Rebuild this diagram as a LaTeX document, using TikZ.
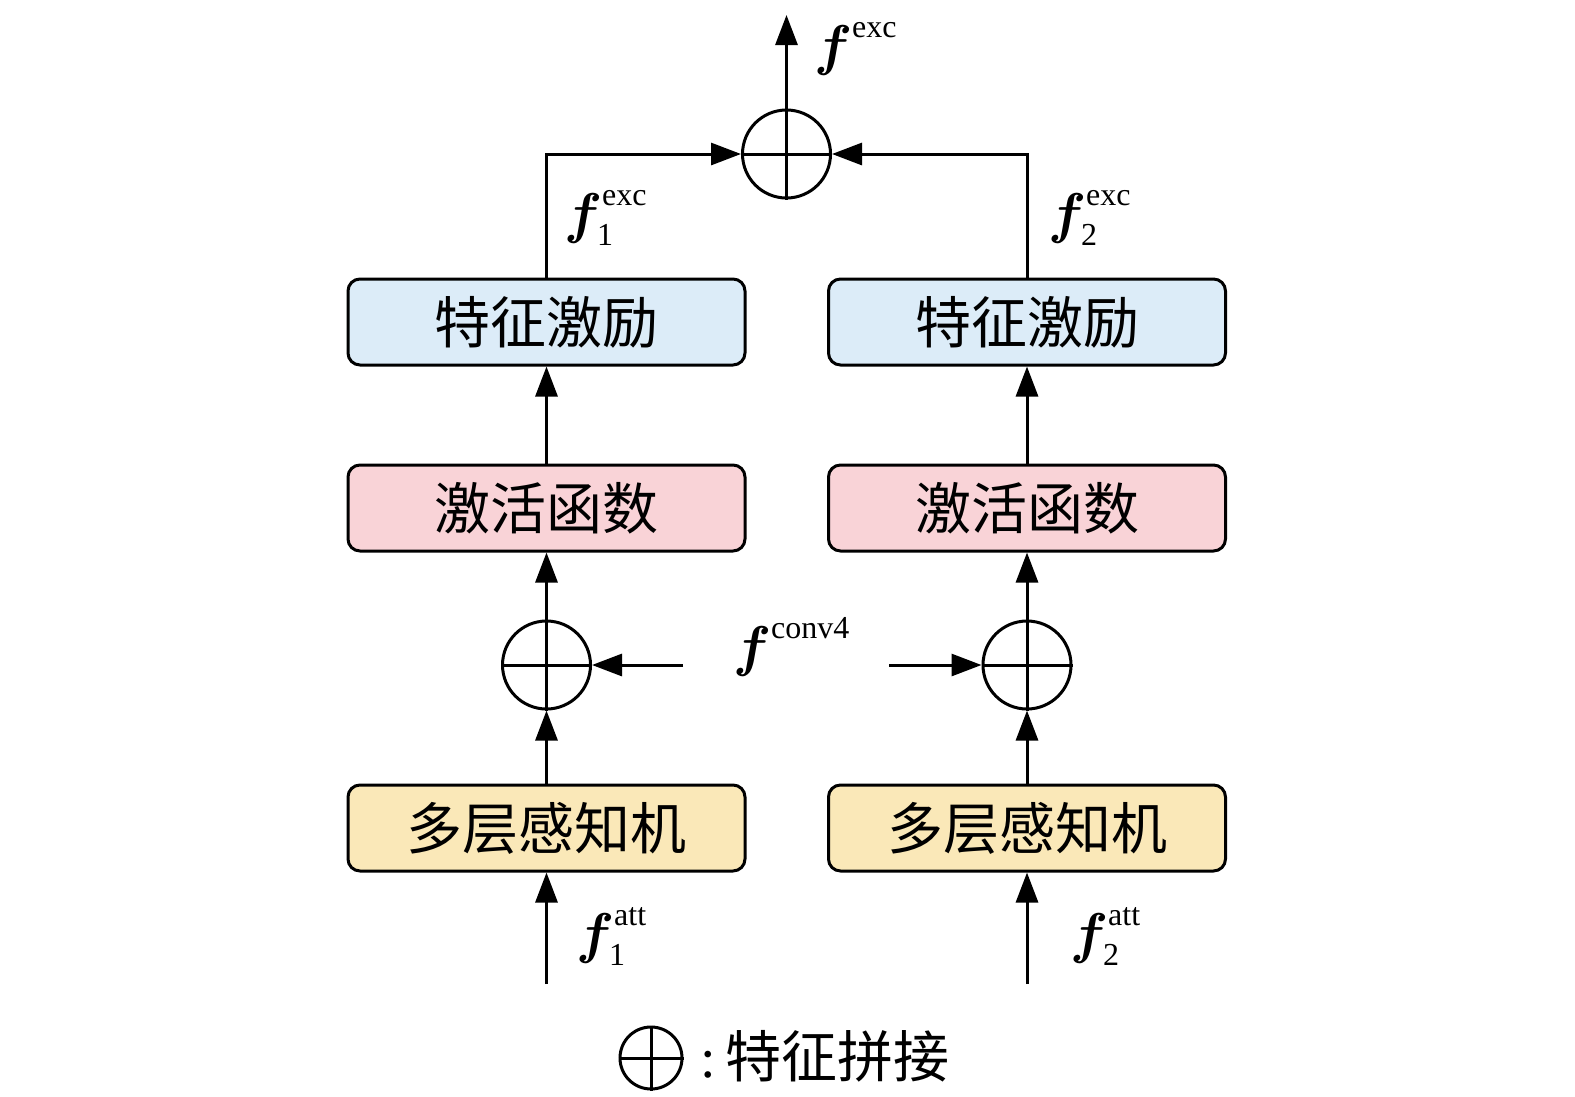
\RequirePackage{fix-cm}
\documentclass[tikz,border=0pt]{standalone}
\usepackage{amsmath,amsbsy}
\usepackage{fontspec}
\setmainfont{Liberation Serif}
\newfontfamily\cjk{Noto Sans CJK SC}
\usetikzlibrary{arrows.meta}
\DeclareMathSizes{56}{56}{32}{24}
\definecolor{cblue}{HTML}{DCECF8}
\definecolor{cpink}{HTML}{F9D3D7}
\definecolor{cyel}{HTML}{FAE8B8}
\newcommand{\flab}[2]{$\boldsymbol{f}_{\hspace{-5pt}\text{#2}}^{\text{#1}}$}
\begin{document}
\begin{tikzpicture}[x=1pt,y=-1pt,
  boxst/.style={draw,line width=3pt,rounded corners=12pt,minimum width=397pt,minimum height=86pt,inner sep=0pt,font=\cjk\fontsize{56}{60}\selectfont},
  opl/.style={draw,circle,line width=3pt,minimum size=88pt,inner sep=0pt},
  arr/.style={line width=3pt,-{Triangle[length=30pt,width=22pt]}},
  ln/.style={line width=3pt},
  lab/.style={font=\fontsize{56}{60}\selectfont,inner sep=0pt,anchor=base west}]
\useasboundingbox (0,0) rectangle (1575,1096);
% boxes
\node[boxst,fill=cblue] (e1) at (546.5,322) {特征激励};
\node[boxst,fill=cblue] (e2) at (1027,322) {特征激励};
\node[boxst,fill=cpink] (a1) at (546.5,508) {激活函数};
\node[boxst,fill=cpink] (a2) at (1027,508) {激活函数};
\node[boxst,fill=cyel] (m1) at (546.5,828) {多层感知机};
\node[boxst,fill=cyel] (m2) at (1027,828) {多层感知机};
% circles
\node[opl] (top) at (786.5,154) {};
\node[opl] (c1) at (546.5,665) {};
\node[opl] (c2) at (1027,665) {};
\foreach \c in {top,c1,c2}{
  \draw[ln] (\c.north) -- (\c.south);
  \draw[ln] (\c.west) -- (\c.east);
}
% coordinates
\coordinate (outp) at (786.5,15);
\coordinate (in1) at (546.5,984);
\coordinate (in2) at (1027,984);
\coordinate (cv1) at (683,665);
\coordinate (cv2) at (889,665);
% connectors
\draw[arr] (top.north) -- (outp);
\draw[arr] (e1.north) |- (top.west);
\draw[arr] (e2.north) |- (top.east);
\draw[arr] (a1.north) -- (e1.south);
\draw[arr] (a2.north) -- (e2.south);
\draw[arr] (c1.north) -- (a1.south);
\draw[arr] (c2.north) -- (a2.south);
\draw[arr] (m1.north) -- (c1.south);
\draw[arr] (m2.north) -- (c2.south);
\draw[arr] (in1) -- (m1.south);
\draw[arr] (in2) -- (m2.south);
\draw[arr] (cv1) -- (c1.east);
\draw[arr] (cv2) -- (c2.west);
% labels
\node[lab] (lexc) at (814,64) {\flab{exc}{}};
\node[lab] (l1exc) at (564,232) {\flab{exc}{1}};
\node[lab] (l2exc) at (1048,232) {\flab{exc}{2}};
\node[lab] (lconv) at (733,665) {\flab{conv4}{}};
\node[lab] (l1att) at (576,952) {\flab{att}{1}};
\node[lab] (l2att) at (1070,952) {\flab{att}{2}};
% legend
\node[draw,circle,line width=3pt,minimum size=62pt,inner sep=0pt] (leg) at (651,1058) {};
\draw[ln] (leg.north) -- (leg.south);
\draw[ln] (leg.west) -- (leg.east);
\node[anchor=west,inner sep=0pt,font=\fontsize{56}{60}\selectfont] (legt) at (700,1056) {:\,{\cjk 特征拼接}};
\end{tikzpicture}
\end{document}
